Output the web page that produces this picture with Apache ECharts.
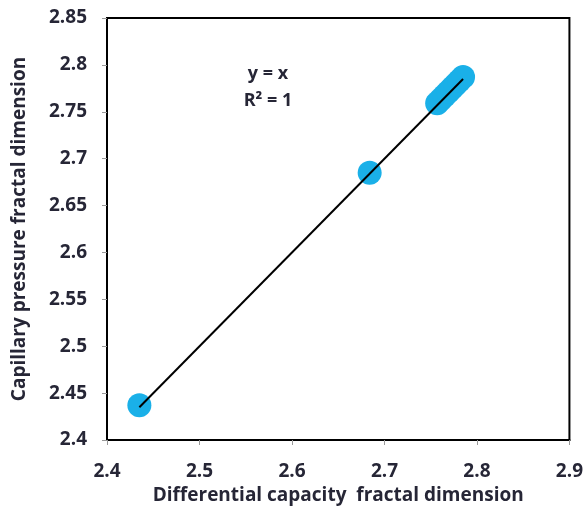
<!DOCTYPE html>
<html><head><meta charset="utf-8">
<script src="https://cdn.jsdelivr.net/npm/echarts@6/dist/echarts.min.js"></script>
<style>html,body{margin:0;padding:0;background:#fff}#c{width:586px;height:511px}</style>
</head><body><div id="c"></div>
<script>
var xValues = [2.435, 2.684, 2.757, 2.761, 2.765, 2.769, 2.773, 2.777, 2.781, 2.785];
var yValues = [2.437, 2.685, 2.759, 2.763, 2.767, 2.771, 2.775, 2.779, 2.783, 2.787];
var xTicks = [2.4, 2.5, 2.6, 2.7, 2.8, 2.9];
var yTicks = [2.4, 2.45, 2.5, 2.55, 2.6, 2.65, 2.7, 2.75, 2.8, 2.85];
var xTitle = 'Differential capacity  fractal dimension';
var yTitle = 'Capillary pressure fractal dimension';
var eqLines = ['y = x', 'R\u00b2 = 1'];

var pts = xValues.map(function(x, i){ return [x, yValues[i]]; });
var minX = Math.min.apply(null, xValues), maxX = Math.max.apply(null, xValues);
var trend = [[minX, minX], [maxX, maxX]];
var font = 'Open Sans, Liberation Sans, sans-serif';
var txt = '#262636';
var fs = 19;

var chart = echarts.init(document.getElementById('c'), null, {renderer:'canvas'});
chart.setOption({
  animation:false,
  backgroundColor:'#fff',
  grid:{left:107, right:16, top:18, bottom:71, show:true, borderColor:'#000', borderWidth:2, backgroundColor:'transparent'},
  xAxis:{type:'value', min:xTicks[0], max:xTicks[xTicks.length-1], interval:0.1,
    name:xTitle, nameLocation:'middle', nameGap:45,
    nameTextStyle:{fontFamily:font, fontSize:fs, fontWeight:'bold', color:txt},
    axisLine:{show:true, lineStyle:{color:'#000', width:2}},
    axisTick:{show:true, length:5, lineStyle:{color:'#999'}},
    splitLine:{show:false},
    axisLabel:{margin:22, fontFamily:font, fontSize:fs, fontWeight:'bold', color:txt,
      formatter:function(v){ return String(+v.toFixed(2)); }}
  },
  yAxis:{type:'value', min:yTicks[0], max:yTicks[yTicks.length-1], interval:0.05,
    name:yTitle, nameLocation:'middle', nameGap:78, nameRotate:90,
    nameTextStyle:{fontFamily:font, fontSize:fs, fontWeight:'bold', color:txt},
    axisLine:{show:true, lineStyle:{color:'#000', width:2}},
    axisTick:{show:true, length:5, lineStyle:{color:'#999'}},
    splitLine:{show:false},
    axisLabel:{margin:20, fontFamily:font, fontSize:fs, fontWeight:'bold', color:txt,
      formatter:function(v){ return String(+v.toFixed(2)); }}
  },
  graphic:[{type:'text', x:268, y:60, style:{text:eqLines.join('\n'), fontFamily:font, fontSize:18, fontWeight:'bold', fill:txt, align:'center', lineHeight:27}}],
  series:[
    {type:'scatter', data:pts, symbol:'circle', symbolSize:24, itemStyle:{color:'#1ab0e8', opacity:1}, z:2},
    {type:'line', data:trend, showSymbol:false, symbol:'none', lineStyle:{color:'#000', width:2}, z:3}
  ]
});
</script></body></html>
